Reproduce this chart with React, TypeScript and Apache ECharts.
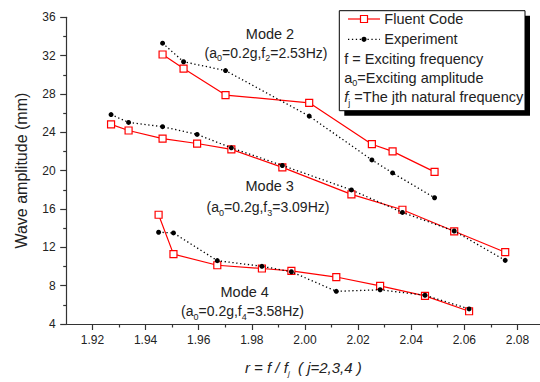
import React, { useEffect, useRef } from "react";
import * as echarts from "echarts";

// ---- Data ----
const mode2X = [1.9464, 1.9543, 1.9701, 2.0016, 2.0252, 2.033, 2.0488];
const mode2Fluent = [32.12, 30.65, 27.89, 27.08, 22.76, 22.01, 19.87];
const mode2Exp = [33.3, 31.36, 30.44, 25.69, 21.12, 19.76, 17.17];

const mode3X = [1.927, 1.9336, 1.9464, 1.9594, 1.9723, 1.9915, 2.0175, 2.0367, 2.0562, 2.0754];
const mode3Fluent = [24.83, 24.19, 23.34, 22.83, 22.22, 20.34, 17.52, 15.92, 13.67, 11.49];
const mode3Exp = [25.85, 25.03, 24.59, 23.78, 22.38, 20.54, 17.99, 15.64, 13.7, 10.64];

const mode4X = [1.9449, 1.9505, 1.967, 1.9838, 1.9949, 2.0118, 2.0283, 2.0452, 2.0618];
const mode4Fluent = [15.4, 11.29, 10.13, 9.79, 9.55, 8.9, 7.98, 6.93, 5.33];
const mode4Exp = [13.57, 13.5, 10.61, 10.02, 9.45, 7.41, 7.57, 7.0, 5.57];

const xMajorTicks = [1.92, 1.94, 1.96, 1.98, 2.0, 2.02, 2.04, 2.06, 2.08];
const xMinorTicks = [1.93, 1.95, 1.97, 1.99, 2.01, 2.03, 2.05, 2.07];

const FONT = '"Liberation Sans", Arial, Helvetica, sans-serif';
const RED = "#ff0000";
const TXT = "#222222";

const pairs = (xs: number[], ys: number[]) => xs.map((x, i) => [x, ys[i]]);

const fluentSeries = (data: number[][]) => ({
  type: "line",
  name: "Fluent Code",
  data,
  symbol: "rect",
  symbolSize: 7,
  lineStyle: { color: RED, width: 1.2, type: "solid" },
  itemStyle: { color: "#ffffff", borderColor: RED, borderWidth: 1.2 },
  z: 3,
});

const expSeries = (data: number[][]) => ({
  type: "line",
  name: "Experiment",
  data,
  symbol: "circle",
  symbolSize: 5,
  lineStyle: { color: "#000000", width: 1.3, type: [1.3, 2.6] },
  itemStyle: { color: "#000000", borderWidth: 0 },
  z: 4,
});

const subRich = {
  n: { fontFamily: FONT, fontSize: 14, fill: TXT, color: TXT, lineHeight: 20 },
  s: { fontFamily: FONT, fontSize: 9, fill: TXT, color: TXT, lineHeight: 9, verticalAlign: "bottom" },
};

const makeText = (x: number, y: number, text: string, size: number, align = "center", extra: any = {}) => ({
  type: "text",
  x,
  y,
  style: {
    text,
    fontFamily: FONT,
    fontSize: size,
    fill: TXT,
    align,
    verticalAlign: "middle",
    lineHeight: 20,
    rich: {
      n: { fontFamily: FONT, fontSize: size, fill: TXT, lineHeight: 20 },
      i: { fontFamily: FONT, fontSize: size, fill: TXT, lineHeight: 20, fontStyle: "italic" },
      s: { fontFamily: FONT, fontSize: 9, fill: TXT, lineHeight: 9, verticalAlign: "bottom" },
    },
    ...extra,
  },
  z: 100,
});

export default function App() {
  const ref = useRef<HTMLDivElement>(null);

  useEffect(() => {
    if (!ref.current) return;
    const chart = echarts.init(ref.current, null, { renderer: "svg" });

    const xMin = 1.9103;
    const xMax = 2.0885;

    const option: any = {
      animation: false,
      backgroundColor: "#ffffff",
      grid: { left: 66.7, right: 0, top: 17.3, bottom: 51.3, containLabel: false },
      xAxis: [
        {
          type: "value",
          min: xMin,
          max: xMax,
          position: "bottom",
          name: "{i|r = f / f}{s|j}{i|  ( j=2,3,4 )}",
          nameLocation: "middle",
          nameGap: 33,
          nameTextStyle: {
            fontFamily: FONT,
            fontSize: 15,
            color: TXT,
            rich: {
              i: { fontFamily: FONT, fontSize: 15, fontStyle: "italic", color: TXT, lineHeight: 20 },
              s: { fontFamily: FONT, fontSize: 8, fontStyle: "italic", color: TXT, lineHeight: 8, verticalAlign: "bottom" },
            },
          },
          axisLine: { show: true, onZero: false, lineStyle: { color: "#333333", width: 1.2 } },
          axisTick: { show: true, length: 6, customValues: xMajorTicks, lineStyle: { color: "#333333", width: 1.2 } },
          axisLabel: {
            show: true,
            customValues: xMajorTicks,
            margin: 10,
            fontFamily: FONT,
            fontSize: 12,
            color: TXT,
            formatter: (v: number) => v.toFixed(2),
          },
          splitLine: { show: false },
          minorTick: { show: false },
        },
        {
          type: "value",
          min: xMin,
          max: xMax,
          position: "bottom",
          axisLine: { show: false, onZero: false },
          axisTick: { show: true, length: 3.5, customValues: xMinorTicks, lineStyle: { color: "#333333", width: 1.2 } },
          axisLabel: { show: false },
          splitLine: { show: false },
        },
      ],
      yAxis: {
        type: "value",
        min: 4,
        max: 36,
        interval: 4,
        name: "Wave amplitude (mm)",
        nameLocation: "middle",
        nameRotate: 90,
        nameGap: 37,
        nameTextStyle: { fontFamily: FONT, fontSize: 16, color: TXT },
        axisLine: { show: true, onZero: false, lineStyle: { color: "#333333", width: 1.2 } },
        axisTick: { show: true, length: 6.5, lineStyle: { color: "#333333", width: 1.2 } },
        minorTick: { show: true, splitNumber: 2, length: 3.5, lineStyle: { color: "#333333", width: 1.2 } },
        axisLabel: { margin: 11, fontFamily: FONT, fontSize: 12, color: TXT },
        splitLine: { show: false },
        minorSplitLine: { show: false },
      },
      series: [
        fluentSeries(pairs(mode2X, mode2Fluent)),
        expSeries(pairs(mode2X, mode2Exp)),
        fluentSeries(pairs(mode3X, mode3Fluent)),
        expSeries(pairs(mode3X, mode3Exp)),
        fluentSeries(pairs(mode4X, mode4Fluent)),
        expSeries(pairs(mode4X, mode4Exp)),
      ],
      graphic: [
        // Mode annotations
        makeText(270, 34, "Mode 2", 14.5),
        makeText(266, 52.5, "{n|(a}{s|0}{n|=0.2g,f}{s|2}{n|=2.53Hz)}", 14),
        makeText(269.7, 186, "Mode 3", 14.5),
        makeText(268, 207, "{n|(a}{s|0}{n|=0.2g,f}{s|3}{n|=3.09Hz)}", 14),
        makeText(244.7, 291.7, "Mode 4", 14.5),
        makeText(242.5, 311, "{n|(a}{s|0}{n|=0.2g,f}{s|4}{n|=3.58Hz)}", 14),
        // Legend box
        {
          type: "group",
          z: 90,
          children: [
            { type: "rect", shape: { x: 344.3, y: 15.7, width: 185.7, height: 100 }, style: { fill: "#000000" }, z: 90 },
            { type: "rect", shape: { x: 339.3, y: 10.7, width: 185.7, height: 100 }, style: { fill: "#ffffff", stroke: "#000000", lineWidth: 1 }, z: 91 },
            { type: "line", shape: { x1: 348, y1: 19, x2: 380, y2: 19 }, style: { stroke: RED, lineWidth: 1.2 }, z: 92 },
            { type: "rect", shape: { x: 360.5, y: 15.5, width: 7, height: 7 }, style: { fill: "#ffffff", stroke: RED, lineWidth: 1.2 }, z: 93 },
            { type: "line", shape: { x1: 348, y1: 39.3, x2: 380, y2: 39.3 }, style: { stroke: "#000000", lineWidth: 1.3, lineDash: [1.3, 2.6] }, z: 92 },
            { type: "circle", shape: { cx: 364, cy: 39.3, r: 2.6 }, style: { fill: "#000000" }, z: 93 },
          ],
        },
        makeText(384.3, 19, "Fluent Code", 14.5, "left"),
        makeText(384.3, 39.3, "Experiment", 14.5, "left"),
        makeText(344.3, 59, "f = Exciting frequency", 14.5, "left"),
        makeText(344.3, 77.5, "{n|a}{s|0}{n|=Exciting amplitude}", 14.5, "left"),
        makeText(344.3, 97.3, "{i|f}{s|j}{n| =The jth natural frequency}", 14.5, "left"),
      ],
    };

    chart.setOption(option);
    return () => chart.dispose();
  }, []);

  return (
    <div
      ref={ref}
      style={{ position: "absolute", left: 0, top: 0, width: 540, height: 382, background: "#fff" }}
    />
  );
}
